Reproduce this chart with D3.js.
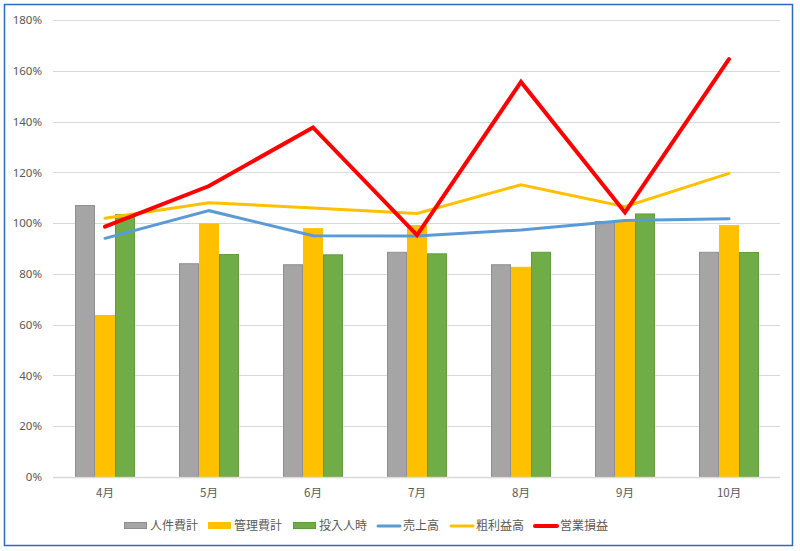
<!DOCTYPE html>
<html><head><meta charset="utf-8">
<script src="https://cdn.jsdelivr.net/npm/d3@7"></script>
<style>
html,body{margin:0;padding:0;background:#fff;}
svg{display:block;font-family:"Noto Sans CJK JP","Noto Sans",sans-serif;}
</style></head><body>
<svg id="c" width="800" height="551"></svg>
<script>
const months = ["4月","5月","6月","7月","8月","9月","10月"];
const barSeries = ["人件費計","管理費計","投入人時"];
const lineSeries = ["売上高","粗利益高","営業損益"];
const jinkenhi = [107.1, 84.2, 83.8, 88.7, 83.8, 100.8, 88.7];
const kanrihi = [63.8, 99.9, 98.0, 99.2, 82.8, 100.5, 99.2];
const tonyuJinji = [103.5, 87.8, 87.7, 88.1, 88.7, 103.8, 88.6];
const uriage = [94.0, 104.9, 95.0, 94.9, 97.3, 101.0, 101.7];
const arari = [101.9, 108.0, 106.0, 103.8, 115.1, 106.5, 119.6];
const eigyo = [98.6, 114.6, 137.7, 95.3, 155.6, 104.2, 164.6];
const yTicks = [0,20,40,60,80,100,120,140,160,180];

const barData = [jinkenhi, kanrihi, tonyuJinji];
const lineData = [uriage, arari, eigyo];
const barFill = ["#a5a5a5","#ffc000","#70ad47"];
const barStroke = ["#8f8f8f","#ffc000","#5e9e38"];
const lineColor = ["#5b9bd5","#ffc000","#ff0000"];
const lineW = [3,3,4];

const svg = d3.select("#c");
// outer border
svg.append("rect").attr("x",4.5).attr("y",4.5).attr("width",788).attr("height",541)
  .attr("fill","#fff").attr("stroke","#2a6ebb").attr("stroke-width",1.5);

const L=53, R=781, T=20, B=477;
const x = d3.scaleBand().domain(months).range([L,R]).padding(0);
const y = d3.scaleLinear().domain([0,180]).range([B,T]);
const xs = d3.scaleBand().domain(barSeries).range([0,60]).padding(0);

// gridlines
svg.append("g").selectAll("line").data(yTicks.filter(d=>d>0)).join("line")
  .attr("x1",L).attr("x2",R-1).attr("y1",d=>Math.round(y(d))+0.5).attr("y2",d=>Math.round(y(d))+0.5)
  .attr("stroke","#d9d9d9").attr("stroke-width",1);

// y axis labels
const yAxis = d3.axisLeft(y).tickValues(yTicks).tickFormat(d=>d+"%").tickSize(0).tickPadding(11);
const gy = svg.append("g").attr("transform",`translate(${L},0)`).call(yAxis);
gy.select(".domain").remove();
gy.selectAll("text").attr("fill","#595959").style("font-size","11.5px").style("font-family","'Noto Sans',sans-serif");

// bars
barData.forEach((vals,i)=>{
  svg.append("g").selectAll("rect").data(vals).join("rect")
    .attr("x",(d,j)=>x(months[j])+x.bandwidth()/2-30+xs(barSeries[i])+0.5)
    .attr("y",d=>y(d)+0.5)
    .attr("width",xs.bandwidth()-1)
    .attr("height",d=>B-y(d)-0.5)
    .attr("fill",barFill[i]).attr("stroke",barStroke[i]).attr("stroke-width",1);
});

// x axis line
svg.append("line").attr("x1",L).attr("x2",R-1).attr("y1",B+0.5).attr("y2",B+0.5)
  .attr("stroke","#d9d9d9").attr("stroke-width",1.5);

const xAxis = d3.axisBottom(x).tickSize(0).tickPadding(12);
const gx = svg.append("g").attr("transform",`translate(0,${B})`).call(xAxis);
gx.select(".domain").remove();
gx.selectAll("text").attr("fill","#595959").style("font-size","11.5px").style("font-family","'Noto Sans CJK JP',sans-serif");

// lines
const lineGen = d3.line().x((d,j)=>x(months[j])+x.bandwidth()/2).y(d=>y(d));
lineData.forEach((vals,i)=>{
  svg.append("path").datum(vals).attr("d",lineGen)
    .attr("fill","none").attr("stroke",lineColor[i]).attr("stroke-width",lineW[i])
    .attr("stroke-linejoin","miter").attr("stroke-linecap","round");
});

// legend
const legendItems = [
  {name:barSeries[0],type:"bar",fill:barFill[0],stroke:barStroke[0],x:124},
  {name:barSeries[1],type:"bar",fill:barFill[1],stroke:barStroke[1],x:208},
  {name:barSeries[2],type:"bar",fill:barFill[2],stroke:barStroke[2],x:293},
  {name:lineSeries[0],type:"line",color:lineColor[0],w:lineW[0],x:377},
  {name:lineSeries[1],type:"line",color:lineColor[1],w:lineW[1],x:450},
  {name:lineSeries[2],type:"line",color:lineColor[2],w:lineW[2],x:534}
];
const ly = 526;
const lg = svg.append("g");
legendItems.forEach(it=>{
  if(it.type==="bar"){
    lg.append("rect").attr("x",it.x+0.5).attr("y",ly-3.5).attr("width",22).attr("height",6)
      .attr("fill",it.fill).attr("stroke",it.stroke).attr("stroke-width",1);
  } else {
    lg.append("line").attr("x1",it.x+1).attr("x2",it.x+23).attr("y1",ly).attr("y2",ly)
      .attr("stroke",it.color).attr("stroke-width",it.w).attr("stroke-linecap","round");
  }
  lg.append("text").attr("x",it.x+26).attr("y",ly).attr("dy","0.35em")
    .attr("fill","#595959").style("font-size","12px").text(it.name);
});
</script>
</body></html>
